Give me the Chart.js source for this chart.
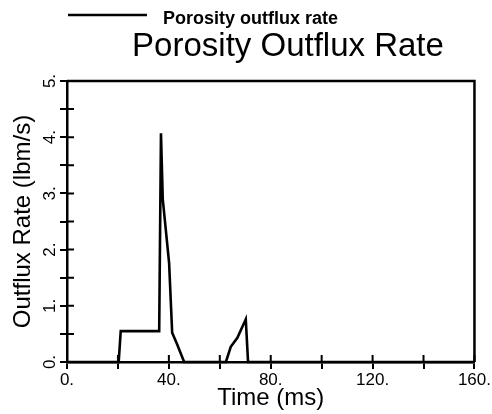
<!DOCTYPE html>
<html><head><meta charset="utf-8">
<script src="https://cdn.jsdelivr.net/npm/chart.js@4"></script>
<style>html,body{margin:0;padding:0;background:#fff}</style>
</head><body>
<canvas id="c" width="492" height="414" style="width:492px;height:414px;display:block"></canvas>
<script>
// ---- data ----
const timeMs      = [0, 20.3, 21.1, 36.2, 36.9, 37.6, 40.1, 41.3, 43.2, 46.0, 62.4, 64.3, 66.9, 70.2, 71.1, 160];
const outfluxRate = [0, 0,    0.55, 0.55, 4.07, 2.90, 1.76, 0.52, 0.32, 0,    0,    0.27, 0.43, 0.76, 0,    0];
const xLabelValues = [0, 40, 80, 120, 160];
const xLabelTexts  = ['0.', '40.', '80.', '120.', '160.'];
const yLabelValues = [0, 1, 2, 3, 4, 5];
const yLabelTexts  = ['0.', '1.', '2.', '3.', '4.', '5.'];
const seriesName = 'Porosity outflux rate';
const chartTitle = 'Porosity Outflux Rate';
const xTitle = 'Time (ms)';
const yTitle = 'Outflux Rate (lbm/s)';

const FONT = "'Liberation Sans', Arial, Helvetica, sans-serif";
const TICK = 7;

const decorPlugin = {
  id: 'decor',
  afterDraw(chart) {
    const {ctx, chartArea: a, scales} = chart;
    ctx.save();
    ctx.strokeStyle = '#000';
    ctx.lineWidth = 2.5;
    // top and right frame
    ctx.beginPath();
    ctx.moveTo(a.left, a.top); ctx.lineTo(a.right, a.top); ctx.lineTo(a.right, a.bottom);
    ctx.stroke();
    // inner halves of tick marks
    ctx.lineWidth = 2;
    ctx.beginPath();
    scales.x.ticks.forEach(t => {
      const px = scales.x.getPixelForValue(t.value);
      ctx.moveTo(px, a.bottom); ctx.lineTo(px, a.bottom - TICK);
    });
    scales.y.ticks.forEach(t => {
      const py = scales.y.getPixelForValue(t.value);
      ctx.moveTo(a.left, py); ctx.lineTo(a.left + TICK, py);
    });
    ctx.stroke();
    // legend
    const ds = chart.data.datasets[0];
    ctx.lineWidth = 2.5;
    ctx.beginPath();
    ctx.moveTo(68, 15); ctx.lineTo(147, 15);
    ctx.stroke();
    ctx.fillStyle = '#000';
    ctx.textBaseline = 'alphabetic';
    ctx.textAlign = 'left';
    ctx.font = 'bold 18px ' + FONT;
    ctx.fillText(ds.label, 163, 24);
    // title
    ctx.textAlign = 'center';
    ctx.font = '33px ' + FONT;
    ctx.fillText(chartTitle, 288, 56);
    ctx.restore();
  }
};

new Chart(document.getElementById('c'), {
  type: 'line',
  data: {
    datasets: [{
      label: seriesName,
      data: timeMs.map((t, i) => ({x: t, y: outfluxRate[i]})),
      borderColor: '#000',
      borderWidth: 2.6,
      pointRadius: 0,
      tension: 0,
      fill: false,
      clip: false
    }]
  },
  options: {
    responsive: false,
    devicePixelRatio: 1,
    animation: false,
    layout: {padding: {top: 81, right: 17, bottom: 1, left: 0}},
    plugins: {legend: {display: false}, title: {display: false}, tooltip: {enabled: false}},
    scales: {
      x: {
        type: 'linear', min: 0, max: 160,
        afterFit(s) { s.height = 414 - 362 - 1; },
        ticks: {
          stepSize: 20, autoSkip: false, maxRotation: 0, minRotation: 0,
          color: '#000', font: {family: FONT, size: 17}, padding: 1,
          callback(v) { const i = xLabelValues.indexOf(v); return i >= 0 ? xLabelTexts[i] : ''; }
        },
        grid: {drawOnChartArea: false, drawTicks: true, tickLength: TICK, color: '#000', lineWidth: 2},
        border: {display: true, color: '#000', width: 2.5},
        title: {display: true, text: xTitle, color: '#000', font: {family: FONT, size: 24}, padding: {top: 0, bottom: 0}}
      },
      y: {
        type: 'linear', min: 0, max: 5,
        afterFit(s) { s.width = 67; },
        ticks: {
          stepSize: 0.5, autoSkip: false, minRotation: 90, maxRotation: 90, crossAlign: 'center',
          color: '#000', font: {family: FONT, size: 17}, padding: 3,
          callback(v) { const i = yLabelValues.indexOf(v); return i >= 0 ? yLabelTexts[i] : ''; }
        },
        grid: {drawOnChartArea: false, drawTicks: true, tickLength: TICK, color: '#000', lineWidth: 2},
        border: {display: true, color: '#000', width: 2.5},
        title: {display: true, text: yTitle, color: '#000', font: {family: FONT, size: 24}, padding: {top: 9, bottom: 0}}
      }
    }
  },
  plugins: [decorPlugin]
});
</script>
</body></html>
